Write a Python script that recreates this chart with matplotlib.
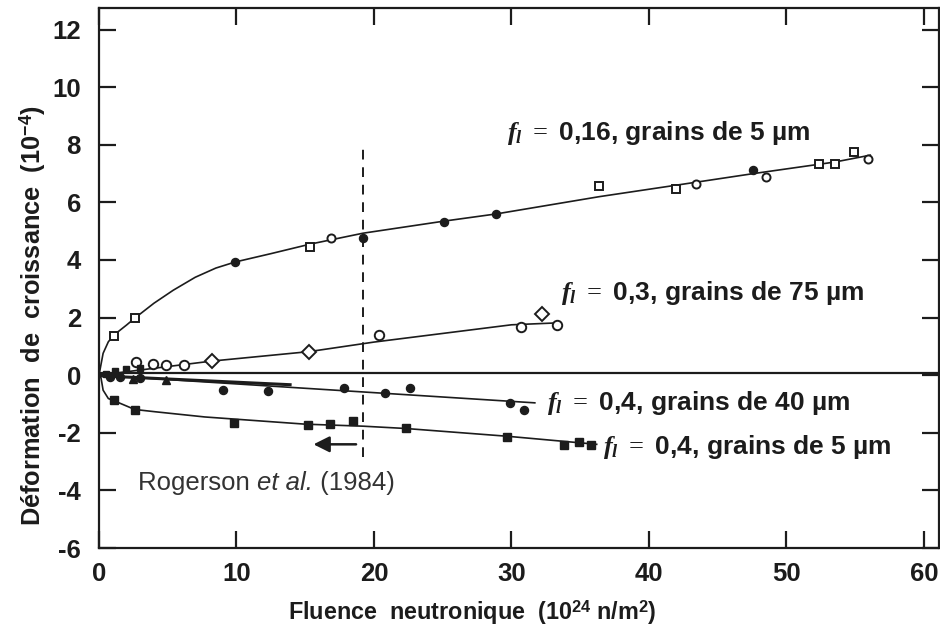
import matplotlib
matplotlib.use("Agg")
import matplotlib.pyplot as plt
from matplotlib.offsetbox import TextArea, HPacker, AnnotationBbox

plt.rcParams['font.family'] = ['Liberation Sans', 'DejaVu Sans']
plt.rcParams['mathtext.fontset'] = 'custom'
plt.rcParams['mathtext.it'] = 'Liberation Serif:italic:bold'
plt.rcParams['mathtext.rm'] = 'Liberation Serif'
plt.rcParams['mathtext.bf'] = 'Liberation Sans:bold'

INK = '#1c1c1c'

# ---- data ----
# f_l = 0.16, grains 5 um
s1_open_sq_x = [1.1, 2.65, 15.35, 36.4, 42.0, 52.4, 53.5, 54.9]
s1_open_sq_y = [1.35, 2.0, 4.45, 6.56, 6.45, 7.33, 7.33, 7.75]
s1_open_ci_x = [16.9, 43.4, 48.5, 55.9]
s1_open_ci_y = [4.78, 6.63, 6.89, 7.49]
s1_fill_x = [9.9, 19.2, 25.1, 28.9, 47.6]
s1_fill_y = [3.93, 4.78, 5.32, 5.61, 7.12]
c1_x = [0, 0.3, 0.68, 1.1, 2.0, 2.6, 4.0, 5.4, 7.0, 8.5, 9.9, 12.5, 15.35, 19.2, 25.1, 28.9, 36.4, 42.3, 47.6, 53.5, 56.1]
c1_y = [0, 0.76, 1.16, 1.4, 1.74, 1.98, 2.5, 2.95, 3.4, 3.72, 3.93, 4.22, 4.55, 4.93, 5.35, 5.6, 6.2, 6.62, 7.0, 7.4, 7.64]

# f_l = 0.3, grains 75 um
s2_open_x = [2.7, 3.95, 4.9, 6.2, 20.4, 30.7, 33.3]
s2_open_y = [0.46, 0.4, 0.35, 0.35, 1.41, 1.68, 1.74]
s2_diam_x = [8.2, 15.3, 32.2]
s2_diam_y = [0.49, 0.81, 2.14]
s2_fill_x = [0.5, 1.2, 2.0, 3.0]
s2_fill_y = [0.05, 0.15, 0.2, 0.25]
c2_x = [0, 5, 8.2, 15.3, 20, 25, 30, 33.5]
c2_y = [0, 0.3, 0.49, 0.82, 1.15, 1.45, 1.75, 1.82]

# f_l = 0.4, grains 40 um
s3_fill_x = [0.8, 1.5, 3.0, 9.04, 12.3, 17.8, 20.8, 22.6, 29.9, 30.9]
s3_fill_y = [-0.05, -0.05, -0.1, -0.5, -0.54, -0.46, -0.62, -0.46, -0.96, -1.22]
s3_tri_x = [2.5, 4.9]
s3_tri_y = [-0.12, -0.17]
c3_x = [0, 31.7]
c3_y = [0, -0.96]
c3b_x = [0, 13.9]
c3b_y = [-0.02, -0.33]

# f_l = 0.4, grains 5 um
s4_x = [1.1, 2.6, 9.8, 15.2, 16.8, 18.5, 22.3, 29.7, 33.8, 34.9, 35.8]
s4_y = [-0.87, -1.22, -1.65, -1.74, -1.70, -1.59, -1.85, -2.14, -2.43, -2.31, -2.43]
c4_x = [0, 0.15, 0.3, 0.68, 1.16, 2.6, 4.1, 7.7, 15, 19.2, 22.3, 29.7, 36.2]
c4_y = [0, -0.1, -0.52, -0.81, -0.9, -1.19, -1.27, -1.45, -1.7, -1.77, -1.85, -2.12, -2.4]

rogerson_x = 19.2
rogerson_y = [-2.85, 7.9]

xticks = [0, 10, 20, 30, 40, 50, 60]
yticks = [-6, -4, -2, 0, 2, 4, 6, 8, 10, 12]

fig = plt.figure(figsize=(9.4, 6.39), dpi=100)
ax = fig.add_axes([0.1053, 0.1424, 0.8937, 0.8451])
ax.set_xlim(0, 61.1)
ax.set_ylim(-6, 12.75)

lw = 1.2
ms = 5.8
ax.axhline(0.08, color=INK, lw=1.6, zorder=1)

ax.plot(c1_x, c1_y, color=INK, lw=lw)
ax.plot(c2_x, c2_y, color=INK, lw=lw)
ax.plot(c3_x, c3_y, color=INK, lw=lw)
ax.plot(c3b_x, c3b_y, color=INK, lw=2.2)
ax.plot(c4_x, c4_y, color=INK, lw=lw)

ax.plot(s1_open_sq_x, s1_open_sq_y, 's', ms=ms, mfc='white', mec=INK, mew=1.4, ls='none')
ax.plot(s1_open_ci_x, s1_open_ci_y, 'o', ms=ms, mfc='white', mec=INK, mew=1.4, ls='none')
ax.plot(s1_fill_x, s1_fill_y, 'o', ms=ms, color=INK, ls='none')

ax.plot(s2_open_x, s2_open_y, 'o', ms=ms + 1, mfc='white', mec=INK, mew=1.4, ls='none')
ax.plot(s2_diam_x, s2_diam_y, 'D', ms=ms + 1, mfc='white', mec=INK, mew=1.4, ls='none')
ax.plot(s2_fill_x, s2_fill_y, 's', ms=ms - 1, color=INK, ls='none')

ax.plot(s3_fill_x, s3_fill_y, 'o', ms=ms, color=INK, ls='none')
ax.plot(s3_tri_x, s3_tri_y, '^', ms=ms, color=INK, ls='none')

ax.plot(s4_x, s4_y, 's', ms=ms, color=INK, ls='none')

ax.plot([rogerson_x, rogerson_x], rogerson_y, color=INK, lw=1.4, ls=(0, (5, 4)))
ax.annotate('', xy=(15.4, -2.4), xytext=(18.9, -2.4),
            arrowprops=dict(arrowstyle='-|>', color=INK, lw=1.8, mutation_scale=24))

tfs = 19
ax.text(29.7, 8.4, r'$f_l\ =$ 0,16, grains de 5 µm', fontsize=tfs, fontweight='bold', color=INK, va='center', ha='left')
ax.text(33.6, 2.85, r'$f_l\ =$ 0,3, grains de 75 µm', fontsize=tfs, fontweight='bold', color=INK, va='center', ha='left')
ax.text(32.55, -0.97, r'$f_l\ =$ 0,4, grains de 40 µm', fontsize=tfs, fontweight='bold', color=INK, va='center', ha='left')
ax.text(36.65, -2.5, r'$f_l\ =$ 0,4, grains de 5 µm', fontsize=tfs, fontweight='bold', color=INK, va='center', ha='left')

rcol = '#333333'
rfs = 18.5
parts = [TextArea('Rogerson ', textprops=dict(fontsize=rfs, color=rcol)),
         TextArea('et al.', textprops=dict(fontsize=rfs, color=rcol, style='italic')),
         TextArea(' (1984)', textprops=dict(fontsize=rfs, color=rcol))]
box = HPacker(children=parts, align='baseline', pad=0, sep=0)
ab = AnnotationBbox(box, (2.84, -3.75), xycoords='data', box_alignment=(0, 0.5), frameon=False, pad=0)
ax.add_artist(ab)

for s in ax.spines.values():
    s.set_linewidth(1.6)
    s.set_color(INK)

ax.set_xticks(xticks)
ax.set_yticks(yticks)
ax.set_xticklabels([str(v) for v in xticks])
ax.set_yticklabels([str(v) for v in yticks])
ax.tick_params(axis='both', direction='in', length=12, width=1.6, color=INK,
               top=True, right=True, labelsize=18.5, labelcolor=INK)
ax.tick_params(axis='y', pad=13)
ax.tick_params(axis='x', pad=10)
for lab in ax.get_xticklabels() + ax.get_yticklabels():
    lab.set_fontweight('bold')

ax.set_xlabel(r'Fluence  neutronique  (10$^{\mathbf{24}}$ n/m$^{\mathbf{2}}$)', fontsize=16.8, fontweight='bold', color=INK)
ax.xaxis.set_label_coords(0.444, -0.12)
ax.xaxis.label.set_va('center')
ax.set_ylabel(r'Déformation  de  croissance  (10$^{\mathbf{-4}}$)', fontsize=18.3, fontweight='bold', color=INK)
ax.yaxis.set_label_coords(-0.079, 0.43)
ax.yaxis.label.set_va('center')

fig.savefig('out.png', dpi=100)
